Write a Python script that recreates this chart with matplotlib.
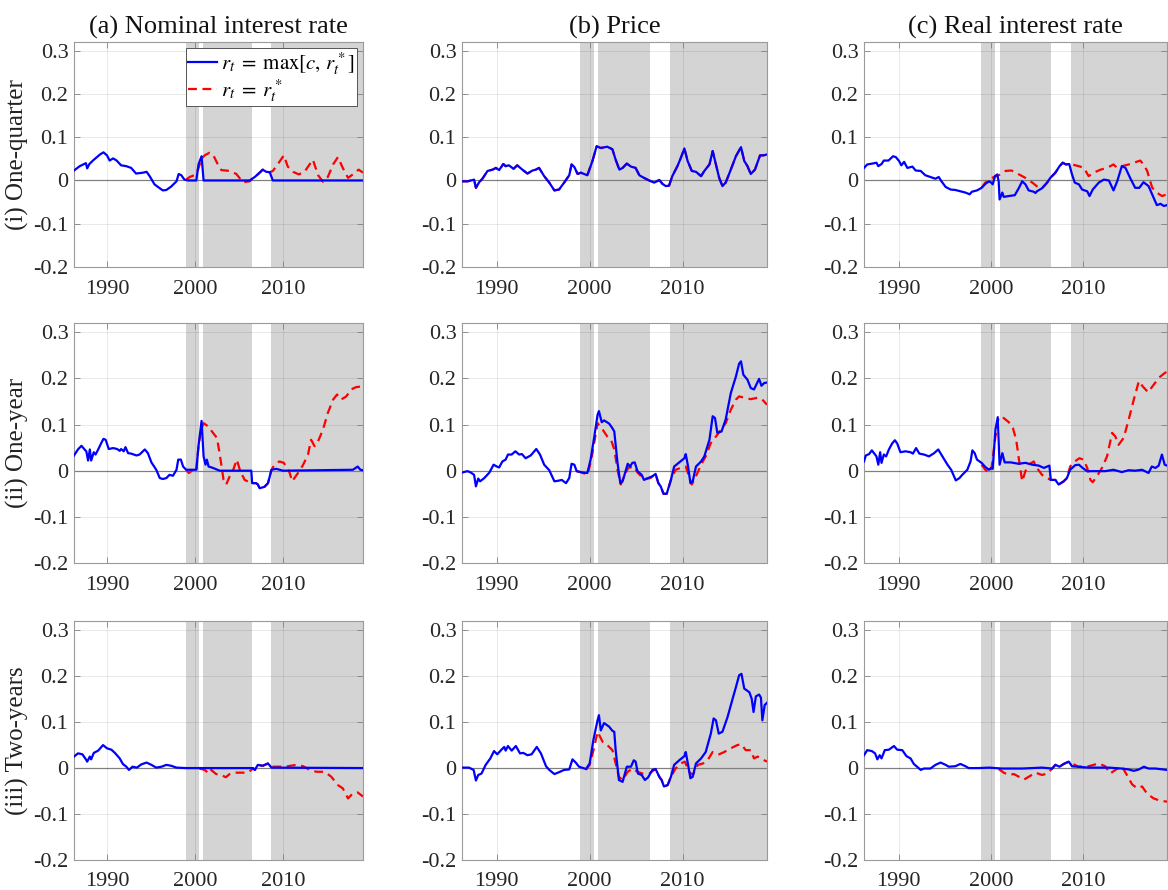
import numpy as np
import matplotlib
matplotlib.use("Agg")
import matplotlib.pyplot as plt

plt.rcParams['font.family'] = ['Liberation Serif', 'DejaVu Serif']
plt.rcParams['mathtext.fontset'] = 'stix'
plt.rcParams['axes.unicode_minus'] = False

# 欄 / 列 標題
col_titles = ['(a) Nominal interest rate', '(b) Price', '(c) Real interest rate']
row_labels = ['(i) One-quarter', '(ii) One-year', '(iii) Two-years']
legend_labels = [r'$r_t\;=\;\max[c,\,r_t^*]$', r'$r_t\;=\;r_t^*$']

# 灰色區間 (年)
shade_periods = [(1998.95, 2000.45), (2000.95, 2006.5), (2008.65, 2019.5)]
x_ticks = [1990, 2000, 2010]
y_ticks = [-0.2, -0.1, 0, 0.1, 0.2, 0.3]
y_ticklabels = ['-0.2', '-0.1', '0', '0.1', '0.2', '0.3']

# ---- (a) 名目利率 ----
a1_blue = [(1986.25, 0.023), (1986.9, 0.033), (1987.6, 0.040), (1987.75, 0.028), (1988.0, 0.038),
           (1988.4, 0.046), (1989.2, 0.060), (1989.6, 0.065), (1990.0, 0.058), (1990.3, 0.046),
           (1990.7, 0.051), (1991.1, 0.046), (1991.6, 0.035), (1992.2, 0.033), (1992.75, 0.029),
           (1993.3, 0.016), (1994.1, 0.018), (1994.5, 0.020), (1994.85, 0.010), (1995.4, -0.009),
           (1996.0, -0.018), (1996.35, -0.023), (1996.75, -0.022), (1997.3, -0.014), (1997.9, -0.002),
           (1998.15, 0.015), (1998.45, 0.012), (1998.8, 0.002), (1999.2, 0.0), (2000.15, 0.0),
           (2000.4, 0.037), (2000.75, 0.056), (2000.98, 0.0), (2006.2, 0.0), (2006.8, 0.008),
           (2007.35, 0.018), (2007.7, 0.025), (2008.1, 0.020), (2008.5, 0.019), (2008.85, 0.0),
           (2019.1, 0.0)]
a1_red = [(1999.0, 0.002), (1999.4, 0.008), (1999.9, 0.012), (2000.35, 0.025), (2000.75, 0.050),
          (2001.1, 0.058), (2001.65, 0.064), (2002.05, 0.060), (2002.6, 0.037), (2003.0, 0.024),
          (2003.95, 0.022), (2004.7, 0.015), (2005.45, -0.004), (2006.2, -0.002), (2006.8, 0.008),
          (2007.35, 0.018), (2007.7, 0.025), (2008.1, 0.020), (2008.5, 0.019), (2008.85, 0.022),
          (2009.4, 0.037), (2010.1, 0.058), (2010.55, 0.032), (2011.15, 0.020), (2011.8, 0.014),
          (2012.45, 0.020), (2013.4, 0.048), (2014.0, 0.012), (2014.55, -0.003), (2015.1, 0.008),
          (2015.7, 0.037), (2016.25, 0.054), (2016.8, 0.029), (2017.4, 0.006), (2017.95, 0.014),
          (2018.6, 0.025), (2019.1, 0.018)]

a2_blue = [(1986.25, 0.033), (1986.7, 0.046), (1987.1, 0.054), (1987.45, 0.046), (1987.65, 0.042),
           (1987.85, 0.022), (1988.05, 0.046), (1988.2, 0.022), (1988.5, 0.040), (1988.7, 0.035),
           (1989.0, 0.046), (1989.35, 0.060), (1989.6, 0.069), (1989.85, 0.067), (1990.2, 0.047),
           (1990.7, 0.049), (1991.15, 0.047), (1991.45, 0.043), (1991.6, 0.047), (1991.9, 0.042),
           (1992.1, 0.051), (1992.4, 0.038), (1992.75, 0.037), (1993.35, 0.033), (1993.7, 0.035),
           (1994.3, 0.046), (1994.65, 0.038), (1995.05, 0.018), (1995.6, 0.002), (1996.0, -0.016),
           (1996.35, -0.018), (1996.75, -0.016), (1997.1, -0.009), (1997.5, -0.011), (1997.9, 0.002),
           (1998.1, 0.024), (1998.4, 0.024), (1998.65, 0.009), (1999.0, 0.002), (2000.15, 0.002),
           (2000.4, 0.053), (2000.75, 0.108), (2000.98, 0.031), (2001.2, 0.013), (2001.35, 0.024),
           (2001.55, 0.009), (2002.05, 0.006), (2002.8, 0.0), (2006.4, 0.0), (2006.5, -0.027),
           (2006.95, -0.027), (2007.15, -0.030), (2007.35, -0.038), (2007.9, -0.035), (2008.3, -0.027),
           (2008.7, 0.002), (2009.25, 0.004), (2010.0, 0.0), (2017.95, 0.002), (2018.5, 0.009),
           (2018.8, 0.002), (2019.1, 0.001)]
a2_red = [(1999.0, 0.002), (1999.3, -0.005), (1999.8, 0.002), (2000.15, -0.001), (2000.4, 0.053),
          (2000.7, 0.089), (2000.98, 0.103), (2001.5, 0.096), (2002.05, 0.082), (2002.5, 0.071),
          (2002.8, 0.038), (2003.25, -0.020), (2003.55, -0.030), (2003.95, -0.012), (2004.3, -0.001),
          (2004.75, 0.024), (2005.15, -0.001), (2005.65, -0.020), (2006.2, -0.025), (2006.5, -0.027),
          (2006.95, -0.027), (2007.15, -0.030), (2007.35, -0.038), (2007.9, -0.035), (2008.3, -0.027),
          (2008.7, 0.002), (2009.05, 0.013), (2009.6, 0.020), (2010.1, 0.017), (2010.45, 0.006),
          (2010.75, -0.004), (2011.05, -0.023), (2011.45, -0.012), (2011.9, 0.0), (2012.3, 0.013),
          (2012.85, 0.035), (2013.2, 0.067), (2013.6, 0.053), (2014.0, 0.064), (2014.55, 0.089),
          (2015.1, 0.125), (2015.7, 0.154), (2016.15, 0.165), (2016.6, 0.154), (2017.2, 0.161),
          (2017.75, 0.176), (2018.3, 0.181), (2019.1, 0.183)]

a3_blue = [(1986.25, 0.025), (1986.7, 0.032), (1987.2, 0.030), (1987.6, 0.019), (1987.75, 0.014),
           (1988.05, 0.025), (1988.2, 0.019), (1988.5, 0.033), (1989.0, 0.038), (1989.55, 0.050),
           (1990.0, 0.043), (1990.5, 0.040), (1990.9, 0.033), (1991.45, 0.021), (1991.8, 0.009),
           (1992.2, 0.003), (1992.5, -0.004), (1992.9, 0.003), (1993.4, 0.001), (1993.9, 0.008),
           (1994.5, 0.012), (1995.05, 0.007), (1995.6, 0.001), (1996.2, 0.003), (1996.75, 0.007),
           (1997.3, 0.005), (1997.9, 0.001), (1999.0, 0.0), (2006.6, 0.0), (2006.8, -0.004),
           (2007.15, 0.007), (2007.7, 0.005), (2008.3, 0.010), (2008.7, 0.001), (2019.1, 0.0)]
a3_red = [(2000.5, -0.001), (2001.1, -0.004), (2001.6, -0.012), (2001.85, -0.004), (2002.4, -0.013),
          (2003.0, -0.015), (2003.5, -0.020), (2003.95, -0.013), (2004.5, -0.010), (2005.25, -0.010),
          (2006.0, -0.010), (2006.6, -0.001), (2006.8, -0.004), (2007.15, 0.007), (2007.7, 0.005),
          (2008.3, 0.010), (2008.7, 0.003), (2009.6, 0.003), (2010.55, 0.004), (2011.5, 0.007),
          (2012.3, 0.004), (2013.05, -0.004), (2013.8, -0.008), (2014.75, -0.008), (2015.5, -0.019),
          (2016.25, -0.037), (2016.8, -0.044), (2017.4, -0.066), (2017.95, -0.055), (2018.5, -0.053),
          (2019.1, -0.062)]

# ---- (b) 價格 ----
b1_blue = [(1986.25, -0.002), (1986.85, -0.002), (1987.4, 0.001), (1987.55, 0.002), (1987.75, -0.017),
           (1988.1, -0.004), (1988.45, 0.004), (1989.0, 0.022), (1989.55, 0.025), (1989.9, 0.029),
           (1990.25, 0.024), (1990.7, 0.038), (1990.95, 0.033), (1991.3, 0.035), (1991.8, 0.027),
           (1992.2, 0.035), (1992.75, 0.025), (1993.3, 0.016), (1993.85, 0.023), (1994.2, 0.025),
           (1994.55, 0.029), (1995.1, 0.010), (1995.65, -0.005), (1996.2, -0.023), (1996.7, -0.021),
           (1997.25, -0.005), (1997.8, 0.012), (1998.05, 0.037), (1998.35, 0.031), (1998.7, 0.015),
           (1999.05, 0.018), (1999.75, 0.012), (2000.3, 0.045), (2000.75, 0.079), (2001.2, 0.075),
           (2001.9, 0.078), (2002.45, 0.072), (2002.8, 0.048), (2003.2, 0.025), (2003.55, 0.029),
           (2004.0, 0.039), (2004.45, 0.032), (2004.95, 0.029), (2005.35, 0.012), (2005.85, 0.006),
           (2006.4, 0.0), (2006.95, -0.005), (2007.5, 0.001), (2007.85, -0.008), (2008.2, -0.013),
           (2008.55, -0.012), (2008.9, 0.010), (2009.45, 0.033), (2009.8, 0.051), (2010.2, 0.074),
           (2010.55, 0.045), (2011.0, 0.022), (2011.45, 0.020), (2012.0, 0.010), (2012.35, 0.022),
           (2012.9, 0.037), (2013.25, 0.068), (2013.6, 0.037), (2013.95, 0.006), (2014.3, -0.013),
           (2014.65, -0.005), (2015.2, 0.025), (2015.75, 0.056), (2016.3, 0.077), (2016.65, 0.045),
           (2017.0, 0.033), (2017.35, 0.015), (2017.8, 0.025), (2018.35, 0.058), (2018.7, 0.058),
           (2019.1, 0.060)]
b1_red = b1_blue  # 兩條幾乎重合

b2_blue = [(1986.25, -0.004), (1986.85, -0.001), (1987.2, -0.004), (1987.55, -0.009), (1987.75, -0.034),
           (1988.0, -0.017), (1988.2, -0.023), (1988.65, -0.016), (1989.2, -0.004), (1989.65, 0.013),
           (1990.0, 0.009), (1990.25, 0.007), (1990.6, 0.020), (1990.95, 0.024), (1991.2, 0.035),
           (1991.6, 0.035), (1992.0, 0.042), (1992.4, 0.035), (1992.7, 0.036), (1993.1, 0.027),
           (1993.65, 0.033), (1994.25, 0.047), (1994.65, 0.035), (1995.1, 0.013), (1995.65, 0.001),
           (1996.2, -0.023), (1996.55, -0.022), (1997.0, -0.020), (1997.45, -0.027), (1997.8, -0.016),
           (1998.05, 0.015), (1998.35, 0.013), (1998.6, -0.001), (1999.2, -0.004), (1999.75, -0.005),
           (2000.1, 0.024), (2000.5, 0.074), (2000.85, 0.121), (2001.0, 0.129), (2001.3, 0.105),
           (2001.55, 0.109), (2002.1, 0.102), (2002.45, 0.092), (2002.65, 0.085), (2003.0, 0.017),
           (2003.3, -0.027), (2003.55, -0.023), (2004.1, 0.015), (2004.35, 0.009), (2004.6, 0.017),
           (2004.85, 0.018), (2005.15, -0.001), (2005.6, -0.009), (2005.85, -0.020), (2006.3, -0.016),
           (2006.75, -0.012), (2007.1, -0.007), (2007.4, -0.027), (2007.65, -0.034), (2007.95, -0.050),
           (2008.3, -0.050), (2008.75, -0.020), (2009.1, 0.009), (2009.65, 0.018), (2010.2, 0.027),
           (2010.35, 0.036), (2010.6, 0.009), (2010.85, -0.027), (2011.1, -0.023), (2011.45, 0.009),
           (2012.0, 0.020), (2012.35, 0.031), (2012.9, 0.067), (2013.25, 0.118), (2013.5, 0.114),
           (2013.75, 0.082), (2014.2, 0.085), (2014.65, 0.111), (2015.2, 0.168), (2015.75, 0.204),
           (2016.1, 0.232), (2016.3, 0.237), (2016.55, 0.208), (2017.0, 0.197), (2017.35, 0.179),
           (2017.7, 0.176), (2018.25, 0.199), (2018.5, 0.184), (2018.8, 0.190), (2019.1, 0.191)]
b2_red = [(1998.6, -0.001), (1999.2, -0.004), (1999.75, -0.009), (2000.1, 0.017), (2000.55, 0.067),
          (2000.85, 0.103), (2001.4, 0.089), (2001.9, 0.074), (2002.3, 0.067), (2002.65, 0.046),
          (2003.0, 0.002), (2003.35, -0.030), (2003.7, -0.012), (2004.15, 0.006), (2004.8, 0.009),
          (2005.15, -0.004), (2005.85, -0.018), (2006.55, -0.016), (2007.1, -0.007), (2007.4, -0.027),
          (2007.65, -0.034), (2007.95, -0.050), (2008.3, -0.050), (2008.75, -0.020), (2009.25, 0.002),
          (2009.8, 0.006), (2010.35, 0.009), (2010.7, -0.012), (2011.0, -0.030), (2011.45, -0.012),
          (2012.0, 0.013), (2012.5, 0.031), (2013.05, 0.060), (2013.6, 0.074), (2014.15, 0.089),
          (2014.65, 0.103), (2015.2, 0.132), (2015.75, 0.154), (2016.1, 0.161), (2016.65, 0.158),
          (2017.35, 0.155), (2018.1, 0.158), (2018.6, 0.154), (2019.1, 0.143)]

b3_blue = [(1986.25, 0.001), (1987.0, 0.001), (1987.5, -0.004), (1987.75, -0.027), (1988.0, -0.015),
           (1988.35, -0.012), (1988.8, 0.007), (1989.3, 0.021), (1989.7, 0.037), (1990.05, 0.030),
           (1990.5, 0.040), (1990.8, 0.046), (1990.95, 0.038), (1991.2, 0.048), (1991.6, 0.038),
           (1992.05, 0.048), (1992.5, 0.032), (1992.85, 0.033), (1993.3, 0.028), (1993.75, 0.030),
           (1994.3, 0.046), (1994.75, 0.032), (1995.3, 0.004), (1995.65, -0.004), (1996.2, -0.013),
           (1996.7, -0.009), (1997.25, -0.004), (1997.8, -0.003), (1998.15, 0.019), (1998.5, 0.012),
           (1998.85, 0.003), (1999.6, -0.002), (2000.0, 0.010), (2000.4, 0.061), (2000.85, 0.104),
           (2001.0, 0.115), (2001.2, 0.082), (2001.55, 0.098), (2002.1, 0.090), (2002.45, 0.081),
           (2002.65, 0.079), (2002.8, 0.039), (2003.15, -0.026), (2003.55, -0.030), (2004.0, 0.003),
           (2004.45, 0.003), (2004.75, 0.017), (2004.95, 0.014), (2005.2, -0.012), (2005.6, -0.015),
           (2005.95, -0.026), (2006.3, -0.020), (2006.75, -0.004), (2007.1, -0.002), (2007.5, -0.019),
           (2007.75, -0.026), (2008.0, -0.040), (2008.4, -0.037), (2008.75, -0.019), (2009.1, 0.007),
           (2009.65, 0.017), (2010.2, 0.026), (2010.35, 0.035), (2010.6, 0.007), (2010.85, -0.022),
           (2011.1, -0.019), (2011.45, 0.010), (2012.0, 0.021), (2012.5, 0.035), (2013.05, 0.075),
           (2013.35, 0.108), (2013.6, 0.104), (2013.9, 0.075), (2014.3, 0.079), (2014.85, 0.111),
           (2015.4, 0.151), (2015.75, 0.176), (2016.1, 0.202), (2016.35, 0.205), (2016.65, 0.173),
           (2017.2, 0.165), (2017.45, 0.151), (2017.65, 0.122), (2017.9, 0.156), (2018.25, 0.160),
           (2018.45, 0.153), (2018.6, 0.104), (2018.85, 0.137), (2019.1, 0.142)]
b3_red = [(1999.6, -0.004), (2000.0, 0.007), (2000.5, 0.046), (2000.85, 0.079), (2001.4, 0.057),
          (2001.9, 0.050), (2002.45, 0.039), (2002.8, 0.010), (2003.15, -0.019), (2003.55, -0.026),
          (2004.1, -0.008), (2004.6, -0.001), (2005.15, -0.008), (2005.7, -0.012), (2006.4, -0.012),
          (2007.1, -0.002), (2007.5, -0.019), (2007.75, -0.026), (2008.0, -0.040), (2008.4, -0.037),
          (2008.75, -0.019), (2009.25, -0.001), (2009.8, 0.010), (2010.25, 0.014), (2010.7, -0.008),
          (2011.1, -0.015), (2011.65, 0.007), (2012.2, 0.010), (2012.7, 0.017), (2013.25, 0.035),
          (2013.95, 0.030), (2014.5, 0.035), (2015.2, 0.043), (2015.9, 0.050), (2016.35, 0.052),
          (2016.8, 0.039), (2017.35, 0.039), (2017.7, 0.021), (2018.1, 0.025), (2018.6, 0.019),
          (2019.1, 0.014)]

# ---- (c) 實質利率 ----
c1_blue = [(1986.25, 0.029), (1986.6, 0.037), (1987.15, 0.039), (1987.6, 0.041), (1987.8, 0.033),
           (1988.15, 0.038), (1988.4, 0.046), (1988.9, 0.046), (1989.4, 0.056), (1989.7, 0.054),
           (1990.05, 0.045), (1990.3, 0.035), (1990.6, 0.043), (1990.95, 0.029), (1991.5, 0.032),
           (1991.85, 0.023), (1992.4, 0.022), (1992.9, 0.012), (1993.45, 0.008), (1994.0, 0.004),
           (1994.35, 0.008), (1994.65, -0.002), (1995.1, -0.015), (1995.65, -0.021), (1996.15, -0.022),
           (1996.7, -0.025), (1997.25, -0.028), (1997.7, -0.032), (1997.95, -0.026), (1998.5, -0.023),
           (1999.0, -0.017), (1999.4, -0.008), (1999.8, -0.002), (2000.05, -0.005), (2000.2, -0.009),
           (2000.45, 0.010), (2000.7, 0.014), (2000.85, -0.002), (2000.95, -0.044), (2001.25, -0.028),
           (2001.4, -0.038), (2001.95, -0.036), (2002.6, -0.034), (2003.05, -0.017), (2003.4, -0.002),
           (2003.75, -0.009), (2004.1, -0.023), (2004.65, -0.026), (2004.85, -0.029), (2005.0, -0.025),
           (2005.55, -0.018), (2006.1, -0.005), (2006.45, 0.006), (2007.0, 0.018), (2007.45, 0.033),
           (2007.8, 0.041), (2008.15, 0.037), (2008.5, 0.038), (2008.8, 0.014), (2009.1, -0.005),
           (2009.55, -0.009), (2009.9, -0.021), (2010.45, -0.025), (2010.7, -0.036), (2011.05, -0.021),
           (2011.7, -0.005), (2012.25, 0.002), (2012.8, 0.0), (2013.3, -0.023), (2013.7, -0.002),
           (2014.2, 0.033), (2014.6, 0.029), (2015.1, 0.006), (2015.65, -0.017), (2016.1, -0.017),
           (2016.55, -0.004), (2017.1, -0.013), (2017.65, -0.040), (2018.0, -0.057), (2018.4, -0.054),
           (2018.75, -0.059), (2019.1, -0.057)]
c1_red = [(1999.0, -0.017), (1999.4, -0.005), (1999.8, 0.0), (2000.3, 0.008), (2000.85, 0.012),
          (2001.6, 0.022), (2002.25, 0.023), (2003.05, 0.014), (2003.75, 0.006), (2004.5, -0.005),
          (2005.2, -0.017), (2005.55, -0.018), (2006.1, -0.005), (2006.45, 0.006), (2007.0, 0.018),
          (2007.45, 0.033), (2007.8, 0.041), (2008.15, 0.037), (2008.5, 0.038), (2008.8, 0.037),
          (2009.55, 0.033), (2010.1, 0.029), (2010.6, 0.010), (2011.15, 0.018), (2011.9, 0.025),
          (2012.6, 0.029), (2013.3, 0.037), (2013.7, 0.029), (2014.2, 0.033), (2014.95, 0.037),
          (2015.65, 0.042), (2016.2, 0.046), (2016.55, 0.037), (2016.95, 0.022), (2017.5, -0.017),
          (2018.0, -0.028), (2018.55, -0.036), (2019.1, -0.032)]

c2_blue = [(1986.25, 0.020), (1986.45, 0.033), (1986.8, 0.036), (1987.1, 0.044), (1987.45, 0.035),
           (1987.6, 0.031), (1987.8, 0.013), (1988.0, 0.040), (1988.15, 0.017), (1988.4, 0.035),
           (1988.65, 0.031), (1988.95, 0.046), (1989.3, 0.059), (1989.6, 0.066), (1989.85, 0.059),
           (1990.2, 0.040), (1990.75, 0.042), (1991.3, 0.040), (1991.55, 0.037), (1991.9, 0.049),
           (1992.25, 0.037), (1992.75, 0.035), (1993.3, 0.031), (1993.85, 0.038), (1994.3, 0.046),
           (1994.75, 0.031), (1995.3, 0.013), (1995.7, 0.002), (1996.2, -0.021), (1996.6, -0.016),
           (1996.9, -0.009), (1997.45, 0.002), (1997.8, 0.020), (1998.0, 0.044), (1998.25, 0.038),
           (1998.5, 0.024), (1999.0, 0.017), (1999.4, 0.008), (1999.8, 0.002), (2000.05, 0.006),
           (2000.2, 0.004), (2000.5, 0.089), (2000.75, 0.116), (2000.95, 0.013), (2001.25, 0.038),
           (2001.5, 0.018), (2002.15, 0.018), (2003.0, 0.015), (2003.75, 0.017), (2004.5, 0.013),
           (2005.2, 0.011), (2005.75, 0.006), (2006.35, 0.011), (2006.5, -0.020), (2007.0, -0.020),
           (2007.35, -0.030), (2007.9, -0.023), (2008.25, -0.016), (2008.6, 0.002), (2009.15, 0.012),
           (2009.55, 0.013), (2009.95, 0.006), (2010.45, -0.001), (2011.35, -0.001), (2012.4, -0.001),
           (2013.3, 0.002), (2014.2, -0.003), (2014.95, 0.001), (2015.65, 0.0), (2016.4, 0.002),
           (2017.1, -0.005), (2017.45, 0.009), (2017.85, 0.006), (2018.2, 0.011), (2018.55, 0.035),
           (2018.85, 0.013), (2019.1, 0.011)]
c2_red = [(1999.0, 0.013), (1999.4, 0.002), (1999.8, -0.005), (2000.1, 0.009), (2000.5, 0.074),
          (2000.85, 0.116), (2001.4, 0.114), (2001.95, 0.105), (2002.4, 0.092), (2002.75, 0.067),
          (2003.05, 0.024), (2003.4, -0.023), (2003.75, -0.001), (2004.1, 0.013), (2004.65, 0.020),
          (2005.0, 0.006), (2005.55, -0.009), (2006.1, -0.016), (2006.5, -0.020), (2007.0, -0.020),
          (2007.35, -0.030), (2007.9, -0.023), (2008.25, -0.016), (2008.6, 0.009), (2009.1, 0.020),
          (2009.6, 0.027), (2010.05, 0.024), (2010.45, 0.006), (2010.8, -0.020), (2011.05, -0.025),
          (2011.5, -0.012), (2012.05, 0.006), (2012.6, 0.031), (2013.15, 0.082), (2013.5, 0.074),
          (2013.85, 0.056), (2014.4, 0.071), (2014.95, 0.111), (2015.5, 0.154), (2016.05, 0.194),
          (2016.45, 0.183), (2017.05, 0.170), (2017.65, 0.186), (2018.2, 0.201), (2018.75, 0.210),
          (2019.1, 0.215)]

c3_blue = [(1986.25, 0.028), (1986.6, 0.039), (1987.1, 0.037), (1987.45, 0.032), (1987.7, 0.019),
           (1987.95, 0.028), (1988.15, 0.021), (1988.5, 0.039), (1988.95, 0.040), (1989.5, 0.048),
           (1989.85, 0.040), (1990.4, 0.039), (1990.85, 0.026), (1991.3, 0.021), (1991.65, 0.009),
           (1992.0, 0.003), (1992.4, -0.004), (1992.75, -0.001), (1993.45, -0.001), (1994.0, 0.007),
           (1994.55, 0.012), (1995.1, 0.007), (1995.45, 0.003), (1996.15, 0.004), (1996.7, 0.009),
           (1997.25, 0.004), (1997.6, 0.0), (1998.7, 0.0), (1999.8, 0.001), (2001.2, -0.001),
           (2003.4, -0.001), (2005.55, 0.001), (2006.65, -0.001), (2007.0, 0.007), (2007.45, 0.003),
           (2007.9, 0.009), (2008.45, 0.014), (2008.8, 0.004), (2010.6, 0.001), (2012.8, 0.001),
           (2014.2, -0.001), (2014.95, -0.003), (2015.5, -0.006), (2016.05, -0.003), (2016.6, 0.003),
           (2017.1, -0.001), (2017.85, -0.001), (2019.1, -0.004)]
c3_red = [(2000.85, -0.002), (2001.4, -0.010), (2001.95, -0.015), (2002.5, -0.013), (2003.05, -0.019),
          (2003.6, -0.025), (2004.1, -0.019), (2004.85, -0.010), (2005.55, -0.015), (2006.1, -0.012),
          (2006.65, -0.001), (2007.0, 0.007), (2007.45, 0.003), (2007.9, 0.009), (2008.45, 0.014),
          (2008.8, 0.010), (2009.5, 0.003), (2010.6, 0.004), (2011.7, 0.010), (2012.4, 0.004),
          (2012.95, -0.012), (2013.5, -0.004), (2014.2, 0.004), (2014.75, -0.015), (2015.3, -0.035),
          (2015.85, -0.044), (2016.4, -0.040), (2016.95, -0.056), (2017.65, -0.066), (2018.35, -0.071),
          (2019.1, -0.073)]

panels = [[(a1_blue, a1_red), (b1_blue, b1_red), (c1_blue, c1_red)],
          [(a2_blue, a2_red), (b2_blue, b2_red), (c2_blue, c2_red)],
          [(a3_blue, a3_red), (b3_blue, b3_red), (c3_blue, c3_red)]]

# 版面 (像素)
W, H = 1168, 890
col_left = [74, 462, 864]
col_width = [289, 305, 303]
row_top = [42, 323, 621]
row_height = [225, 240, 239]

fig = plt.figure(figsize=(W / 100, H / 100), dpi=100, facecolor='white')

for i in range(3):
    for j in range(3):
        l, w = col_left[j], col_width[j]
        t, h = row_top[i], row_height[i]
        ax = fig.add_axes([l / W, 1 - (t + h) / H, w / W, h / H])

        for s, e in shade_periods:
            ax.axvspan(s, e, color='#d4d4d4', lw=0, zorder=0)
        ax.axhline(0, color='#8c8c8c', lw=0.9, zorder=1)

        blue, red = panels[i][j]
        rx, ry = np.array(red).T
        bx, by = np.array(blue).T
        ax.plot(rx, ry, color='#ff0000', lw=1.6, dashes=(4, 2.5), zorder=2,
                label=legend_labels[1])
        ax.plot(bx, by, color='#0000ff', lw=1.6, zorder=3, label=legend_labels[0])

        ax.set_xlim(1986.25, 2019.1)
        ax.set_ylim(-0.2, 0.32)
        ax.set_xticks(x_ticks)
        ax.set_yticks(y_ticks)
        ax.set_yticklabels(y_ticklabels)
        ax.grid(True, color='k', alpha=0.1, lw=0.6)
        ax.set_axisbelow('line')
        ax.tick_params(direction='in', length=4, width=0.6, color='#808080',
                       top=True, right=True, labelsize=16, labelcolor='#262626')
        ax.tick_params(axis='x', pad=9)
        ax.tick_params(axis='y', pad=4)
        for sp in ax.spines.values():
            sp.set_color('#9a9a9a')
            sp.set_linewidth(0.8)

        if i == 0:
            ax.set_title(col_titles[j], fontsize=19, color='#111111', pad=6)
        if j == 0:
            ax.set_ylabel(row_labels[i], fontsize=18, color='#222222', labelpad=3)
        if i == 0 and j == 0:
            handles, labels = ax.get_legend_handles_labels()
            leg = ax.legend(handles[::-1], labels[::-1], loc='upper right', fontsize=15,
                            frameon=True, fancybox=False, framealpha=1, edgecolor='#555555',
                            borderaxespad=0.3, handlelength=1.4, handletextpad=0.2,
                            borderpad=0.1, labelspacing=0.0)
            leg.get_frame().set_linewidth(0.7)

fig.savefig('out.png', dpi=100, facecolor='white')
